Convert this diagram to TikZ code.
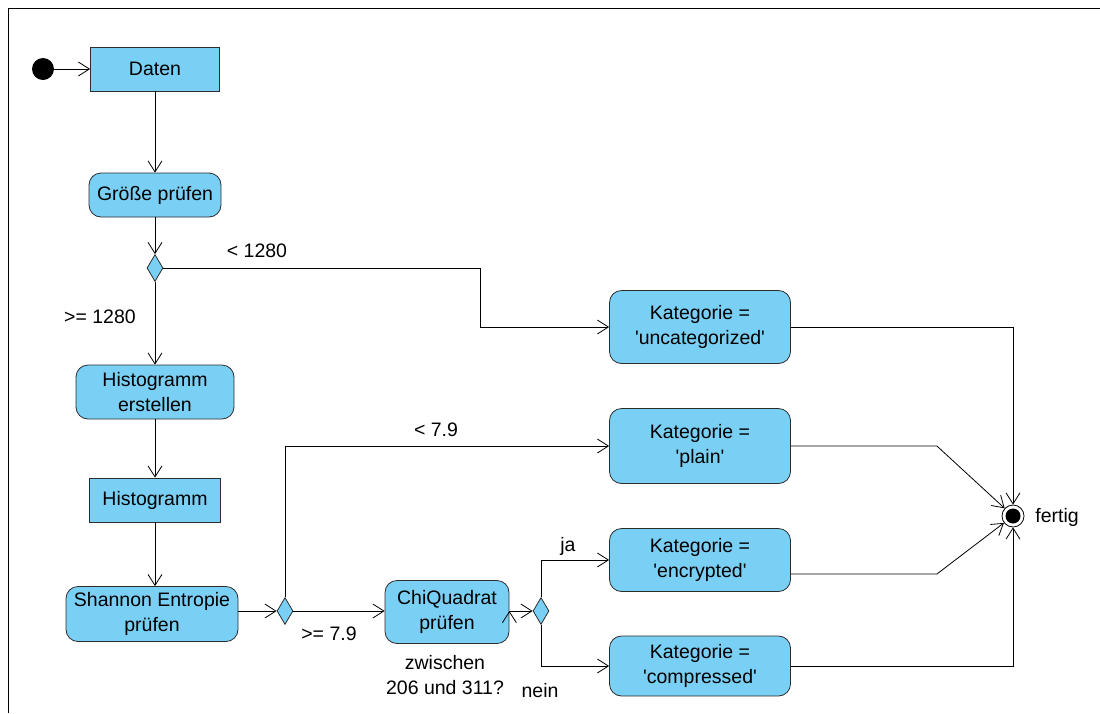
\documentclass[tikz,border=0pt]{standalone}
\usepackage{fontspec}
\setmainfont{Liberation Sans}[Ligatures=TeXOff]
\usetikzlibrary{arrows.meta,shapes.geometric}
\definecolor{actfill}{RGB}{122,207,245}
\definecolor{actdraw}{RGB}{45,45,45}

\begin{document}
\begin{tikzpicture}[x=1pt,y=-1pt,>={Straight Barb[length=11pt,width=14pt]},
                    line width=0.8pt,
                    every node/.style={font=\fontsize{19.5}{25.5}\selectfont}]
  \tikzstyle{action} = [
    rectangle, rounded corners=12pt, draw=actdraw, fill=actfill,
    align=center, inner sep=0pt, minimum width=181pt]
  \tikzstyle{object} = [
    rectangle, draw=actdraw, fill=actfill, inner sep=0pt, minimum height=44pt]
  \tikzstyle{decision} = [
    diamond, draw=actdraw, fill=actfill, inner sep=0pt,
    minimum width=16pt, minimum height=27pt]
  \tikzstyle{start} = [circle, fill=black, minimum size=22pt, inner sep=0pt]
  \tikzstyle{final} = [circle, draw=black, minimum size=22pt, inner sep=0pt,
    path picture={\fill (path picture bounding box.center) circle (7.5pt);}]

  \useasboundingbox (0,0) rectangle (1100,713);
  \draw (8,713) -- (8,8) -- (1100,8);

  \node[start]    (0) at (43,69) {};
  \node[object, minimum width=129pt] (1) at (155,69) {Daten};
  \node[action, minimum width=132pt, minimum height=44pt] (2) at (155,195) {Größe prüfen};
  \node[decision] (3) at (155,268) {};
  \node[action, minimum width=158pt, minimum height=54pt] (4) at (155,392) {Histogramm\\erstellen};
  \node[object, minimum width=131pt] (5) at (155,500) {Histogramm};
  \node[action, minimum width=172pt, minimum height=55pt] (6) at (152,614) {Shannon Entropie\\prüfen};
  \node[decision] (7) at (285,611) {};
  \node[action, minimum width=124pt, minimum height=63pt] (8) at (447,612) {ChiQuadrat\\prüfen};
  \node[decision] (9) at (541,611) {};

  \node[action, minimum height=73pt] (11) at (700,327) {Kategorie =\\'uncategorized'};
  \node[action, minimum height=75pt] (12) at (700,446) {Kategorie =\\'plain'};
  \node[action, minimum height=63pt] (13) at (700,560) {Kategorie =\\'encrypted'};
  \node[action, minimum height=60pt] (14) at (700,666) {Kategorie =\\'compressed'};
  \node[final]    (20) at (1013,516) {};

  \node (30) at (257,251) {< 1280};
  \node (31) at (100,317) {>= 1280};
  \node (32) at (436,430) {< 7.9};
  \node (33) at (329,634) {>= 7.9};
  \node[align=center] (34) at (445,675) {zwischen\\206 und 311?};
  \node (35) at (568,546) {ja};
  \node (36) at (540,691) {nein};
  \node (37) at (1057,517) {fertig};

  \draw[->]
        (0) edge (1)
        (1) edge (2)
        (2) edge (3)
        (3) edge (4)
        (4) edge (5)
        (5) edge (5 |- 6.north)
        (6.east |- 7) edge (7)
        (7) edge (7 -| 8.west)
        (9 -| 8.east) edge (9);

  \draw[->] (3.east) -- ++(317,0) |- (11);
  \draw[->] (7.north) |- (12);
  \draw[->] (9.north) |- (13);
  \draw[->] (9.south) |- (14);

  \draw[->] (11) -| (20);
  \draw[->] (12.east) -- ++(146,0) -- (20);
  \draw[->] ([yshift=-14pt]13.east) -- ++(146,0) -- (20);
  \draw[->] (14) -| (20);
\end{tikzpicture}
\end{document}
